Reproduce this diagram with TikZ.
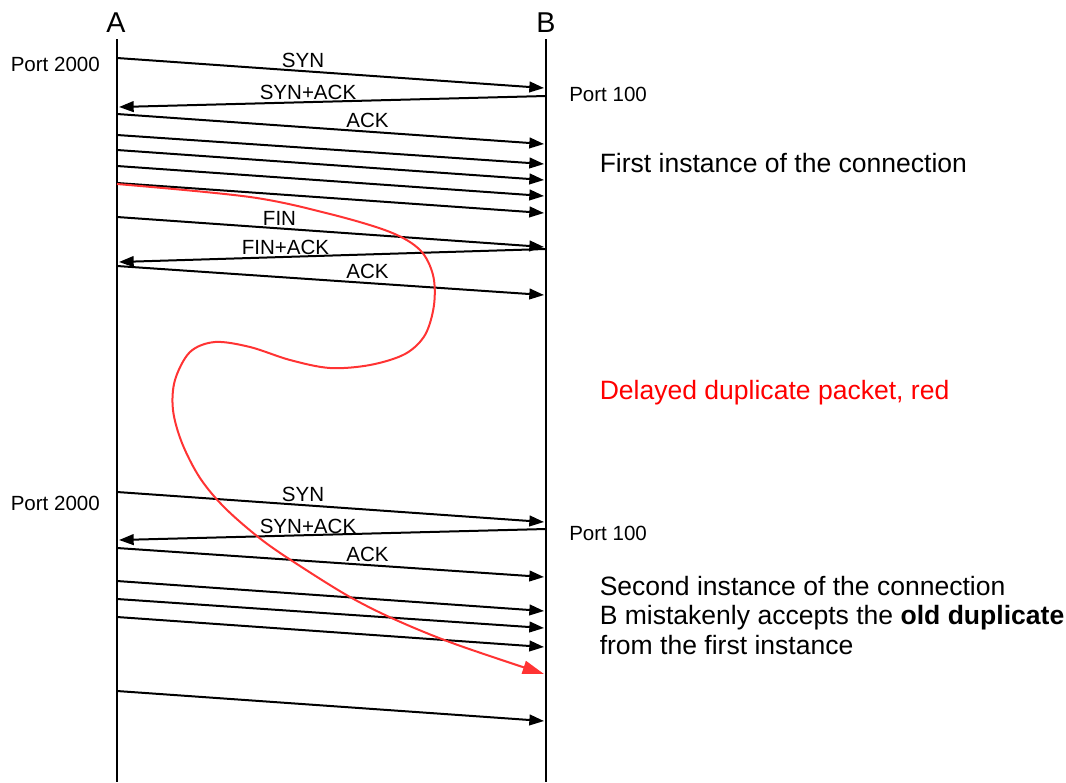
\documentclass[tikz,border=0pt]{standalone}
\usepackage{fontspec}
\setmainfont{Liberation Sans}
\usetikzlibrary{arrows.meta}
\definecolor{curvered}{RGB}{255,51,51}
\definecolor{textred}{RGB}{255,0,0}
\begin{document}
\begin{tikzpicture}[x=0.75pt,y=-0.75pt,
  life/.style={line width=1.6pt},
  msg/.style={line width=1.5pt,-{Triangle[length=11pt,width=8pt]}},
  dup/.style={line width=1.5pt,curvered,-{Triangle[length=16pt,width=10pt]}},
  lbl/.style={font=\fontsize{15.4}{18}\selectfont,inner sep=0pt,anchor=base},
  port/.style={font=\fontsize{15.4}{18}\selectfont,inner sep=0pt,anchor=base west},
  head/.style={font=\fontsize{21.5}{24}\selectfont,inner sep=0pt,anchor=base},
  note/.style={font=\fontsize{19.9}{22}\selectfont,inner sep=0pt,anchor=base west}]
\useasboundingbox (0,0) rectangle (1066,782);

% lifelines
\node[head] (A) at (116,32) {A};
\node[head] (B) at (546,32) {B};
\coordinate (Atop) at (117,39);
\coordinate (Abot) at (117,782);
\coordinate (Btop) at (546,39);
\coordinate (Bbot) at (546,782);
\draw[life] (Atop) -- (Abot);
\draw[life] (Btop) -- (Bbot);

% ports
\node[port] (pa1) at (10.5,71) {Port 2000};
\node[port] (pb1) at (569,101) {Port 100};
\node[port] (pa2) at (10.5,510) {Port 2000};
\node[port] (pb2) at (569,540) {Port 100};

% first instance
\coordinate (a1) at (117,58);  \coordinate (b1) at (544,88);
\coordinate (b2) at (546,96);  \coordinate (a2) at (119,107);
\coordinate (a3) at (117,114); \coordinate (b3) at (544,144);
\coordinate (a4) at (117,135); \coordinate (b4) at (544,164);
\coordinate (a5) at (117,150); \coordinate (b5) at (544,180);
\coordinate (a6) at (117,166); \coordinate (b6) at (544,196);
\coordinate (a7) at (117,183); \coordinate (b7) at (544,213);
\coordinate (a8) at (117,217); \coordinate (b8) at (544,247);
\coordinate (b9) at (546,249); \coordinate (a9) at (119,262);
\coordinate (a10) at (117,266); \coordinate (b10) at (544,295);
\draw[msg] (a1) -- (b1);
\draw[msg] (b2) -- (a2);
\draw[msg] (a3) -- (b3);
\draw[msg] (a4) -- (b4);
\draw[msg] (a5) -- (b5);
\draw[msg] (a6) -- (b6);
\draw[msg] (a7) -- (b7);
\draw[msg] (a8) -- (b8);
\draw[msg] (b9) -- (a9);
\draw[msg] (a10) -- (b10);
\node[lbl] (l1) at (303,67) {SYN};
\node[lbl] (l2) at (308,99) {SYN+ACK};
\node[lbl] (l3) at (367.5,127) {ACK};
\node[lbl] (l8) at (279.5,225) {FIN};
\node[lbl] (l9) at (285.5,254) {FIN+ACK};
\node[lbl] (l10) at (367.5,278) {ACK};

% second instance
\coordinate (c1) at (117,492); \coordinate (d1) at (544,522);
\coordinate (d2) at (546,529); \coordinate (c2) at (119,540);
\coordinate (c3) at (117,548); \coordinate (d3) at (544,577);
\coordinate (c4) at (117,581); \coordinate (d4) at (544,611);
\coordinate (c5) at (117,599); \coordinate (d5) at (544,628);
\coordinate (c6) at (117,617); \coordinate (d6) at (544,647);
\coordinate (c7) at (117,691); \coordinate (d7) at (544,721);
\draw[msg] (c1) -- (d1);
\draw[msg] (d2) -- (c2);
\draw[msg] (c3) -- (d3);
\draw[msg] (c4) -- (d4);
\draw[msg] (c5) -- (d5);
\draw[msg] (c6) -- (d6);
\draw[msg] (c7) -- (d7);
\node[lbl] (m1) at (303,501) {SYN};
\node[lbl] (m2) at (308,533) {SYN+ACK};
\node[lbl] (m3) at (367.5,561) {ACK};

% delayed duplicate
\coordinate (redS) at (117,184);
\coordinate (redE) at (544,674);
\draw[dup] plot[smooth,tension=0.55] coordinates {(redS) (250,197) (330,214) (390,232) (420,250) (433,275) (434,305) (425,335) (405,354) (370,365) (330,368) (290,360) (250,347) (215,342) (190,352) (175,380) (173,410) (182,443) (200,478) (225,508) (262,540) (300,566) (350,597) (396,620) (455,644) (redE)};

% notes
\node[note] (n1) at (599.5,172.3) {First instance of the connection};
\node[note,text=textred] (n2) at (599.5,399) {Delayed duplicate packet, red};
\node[note] (n3) at (599.5,595) {Second instance of the connection};
\node[note] (n4) at (599.5,624.5) {B mistakenly accepts the \textbf{old duplicate}};
\node[note] (n5) at (599.5,654) {from the first instance};
\end{tikzpicture}
\end{document}
